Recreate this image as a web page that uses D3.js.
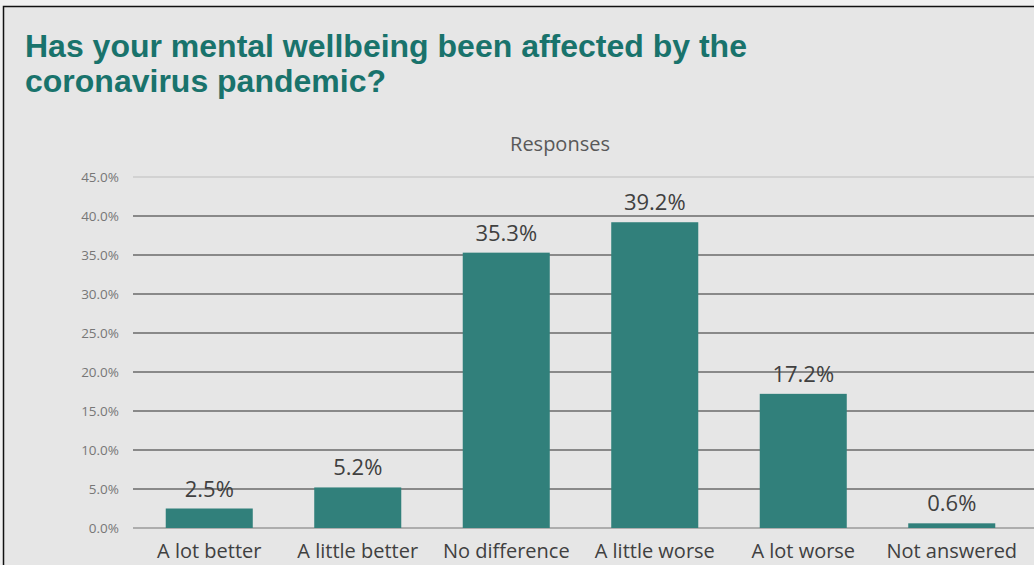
<!DOCTYPE html>
<html>
<head>
<meta charset="utf-8">
<script src="https://cdn.jsdelivr.net/npm/d3@7"></script>
<style>
  html, body { margin: 0; padding: 0; background: #f0f0f0; overflow: hidden; }
  svg { display: block; }
</style>
</head>
<body>
<svg id="chart" width="1034" height="565"></svg>
<script>
// Survey responses (share of respondents, %)
const categories = ["A lot better", "A little better", "No difference", "A little worse", "A lot worse", "Not answered"];
const values = [2.5, 5.2, 35.3, 39.2, 17.2, 0.6];
const yTicks = [0, 5, 10, 15, 20, 25, 30, 35, 40, 45];
const titleLines = ["Has your mental wellbeing been affected by the", "coronavirus pandemic?"];
const seriesName = "Responses";

const W = 1034, H = 565;
const svg = d3.select("#chart");

// panel background and border
svg.append("rect").attr("x", 3.5).attr("y", 6.5).attr("width", W).attr("height", H)
  .attr("fill", "#e6e6e6");
svg.append("path").attr("d", `M3.5,${H} V6.5 H${W}`)
  .attr("fill", "none").attr("stroke", "#111").attr("stroke-width", 1.5);

// title
svg.append("g").selectAll("text").data(titleLines).join("text")
  .attr("x", 25).attr("y", (d, i) => 57 + i * 35)
  .attr("font-family", "'Liberation Sans', Arial, sans-serif")
  .attr("font-weight", "bold").attr("font-size", 32)
  .attr("fill", "#19736c")
  .text(d => d);

const x = d3.scaleBand().domain(categories).range([135, 1026])
  .paddingInner(0.414).paddingOuter(0.207);
const y = d3.scaleLinear().domain([0, 45]).range([528, 177]);

// gridlines
const grid = svg.append("g");
grid.selectAll("line").data(yTicks).join("line")
  .attr("x1", 133).attr("x2", W)
  .attr("y1", d => y(d)).attr("y2", d => y(d))
  .attr("stroke", d => d === 45 ? "#d2d2d2" : (d === 0 ? "#9a9a9a" : "#6a6a6a"))
  .attr("stroke-width", d => d === 45 ? 2 : 1.3);

// y axis labels
const yAxis = d3.axisLeft(y).tickValues(yTicks).tickFormat(d => d3.format(".1f")(d) + "%").tickSize(0).tickPadding(0);
const gy = svg.append("g").attr("transform", "translate(119,0)").call(yAxis);
gy.select(".domain").remove();
gy.selectAll("text")
  .attr("font-family", "'Open Sans', sans-serif").attr("font-size", 13.5)
  .attr("fill", "#777").attr("dy", "0.35em");

// series name
svg.append("text").attr("x", 560).attr("y", 151).attr("text-anchor", "middle")
  .attr("font-family", "'Open Sans', sans-serif").attr("font-size", 20)
  .attr("fill", "#595959").text(seriesName);

// bars
svg.append("g").selectAll("rect").data(values).join("rect")
  .attr("x", (d, i) => x(categories[i]))
  .attr("width", x.bandwidth())
  .attr("y", d => y(d))
  .attr("height", d => y(0) - y(d))
  .attr("fill", "#31807b");

// value labels
svg.append("g").selectAll("text").data(values).join("text")
  .attr("x", (d, i) => x(categories[i]) + x.bandwidth() / 2)
  .attr("y", d => y(d) - 12)
  .attr("text-anchor", "middle")
  .attr("font-family", "'Open Sans', sans-serif").attr("font-size", 22)
  .attr("fill", "#404040")
  .text(d => d3.format(".1f")(d) + "%");

// category axis labels
const xAxis = d3.axisBottom(x).tickSize(0).tickPadding(0);
const gx = svg.append("g").attr("transform", "translate(0,558)").call(xAxis);
gx.select(".domain").remove();
gx.selectAll("text")
  .attr("font-family", "'Open Sans', sans-serif").attr("font-size", 20)
  .attr("fill", "#404040").attr("dy", "0");
</script>
</body>
</html>
